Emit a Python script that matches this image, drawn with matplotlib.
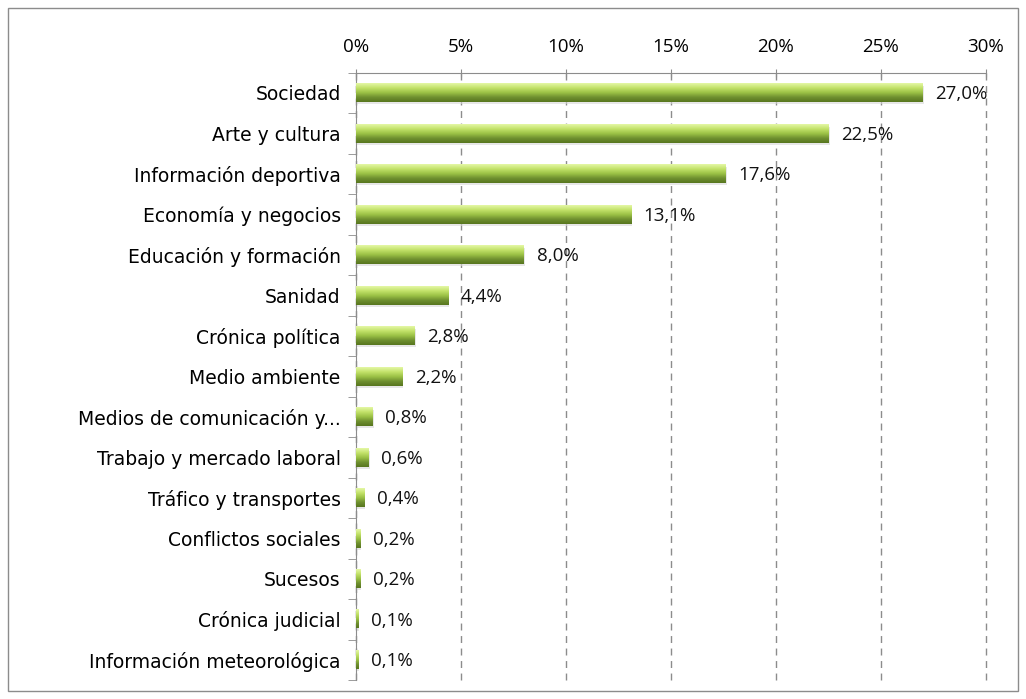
import numpy as np
import matplotlib.pyplot as plt
from matplotlib.colors import LinearSegmentedColormap
from matplotlib.patches import Rectangle

categories = ["Sociedad", "Arte y cultura", "Información deportiva", "Economía y negocios",
              "Educación y formación", "Sanidad", "Crónica política", "Medio ambiente",
              "Medios de comunicación y...", "Trabajo y mercado laboral", "Tráfico y transportes",
              "Conflictos sociales", "Sucesos", "Crónica judicial", "Información meteorológica"]
values = [27.0, 22.5, 17.6, 13.1, 8.0, 4.4, 2.8, 2.2, 0.8, 0.6, 0.4, 0.2, 0.2, 0.1, 0.1]
xticks = [0, 5, 10, 15, 20, 25, 30]

fig = plt.figure(figsize=(10.26, 6.99), dpi=100)
fig.patches.append(Rectangle((0.008, 0.012), 0.984, 0.976, transform=fig.transFigure,
                             fill=False, edgecolor='#8c8c8c', linewidth=1))
ax = fig.add_axes([0.347, 0.027, 0.614, 0.869])

cmap = LinearSegmentedColormap.from_list('g', ['#e4f7a6', '#c3e26a', '#9cc246', '#6f9030', '#58761f'])
grad = np.linspace(0, 1, 64).reshape(-1, 1)
n = len(categories)
h = 0.45
for i, v in enumerate(values):
    # shadow
    ax.add_patch(Rectangle((0, i - h / 2 + 0.06), v + 0.05, h, color='#d8d8d8', alpha=0.6, zorder=2, lw=0))
    ax.imshow(grad, cmap=cmap, aspect='auto', extent=(0, v, i + h / 2, i - h / 2),
              zorder=3, interpolation='bilinear')
    ax.text(v + 0.6, i + 0.03, f"{v:.1f}%".replace('.', ','), va='center', ha='left',
            fontsize=13.5, family='Open Sans', color='#111111')

ax.set_xlim(0, 30)
ax.set_ylim(n - 0.5, -0.5)
ax.xaxis.tick_top()
ax.set_xticks(xticks)
ax.set_xticklabels([f"{t}%" for t in xticks], fontsize=13.5, family='Open Sans')
ax.set_yticks(range(n))
ax.set_yticklabels(categories, fontsize=13.5, family='DejaVu Sans')
ax.set_yticks(np.arange(-0.5, n, 1), minor=True)
ax.tick_params(axis='y', which='major', length=0, pad=11)
ax.tick_params(axis='y', which='minor', length=6, direction='out', color='#8c8c8c')
ax.tick_params(axis='x', which='major', length=6, direction='inout', color='#8c8c8c', pad=9)
ax.grid(axis='x', linestyle=(0, (5, 4)), color='#8c8c8c', linewidth=1, zorder=1)
for gl in ax.get_xgridlines():
    gl.set_clip_on(False)
ax.set_axisbelow(True)
for s in ['right', 'bottom']:
    ax.spines[s].set_visible(False)
for s in ['left', 'top']:
    ax.spines[s].set_color('#8c8c8c')

fig.savefig('out.png', dpi=100)
